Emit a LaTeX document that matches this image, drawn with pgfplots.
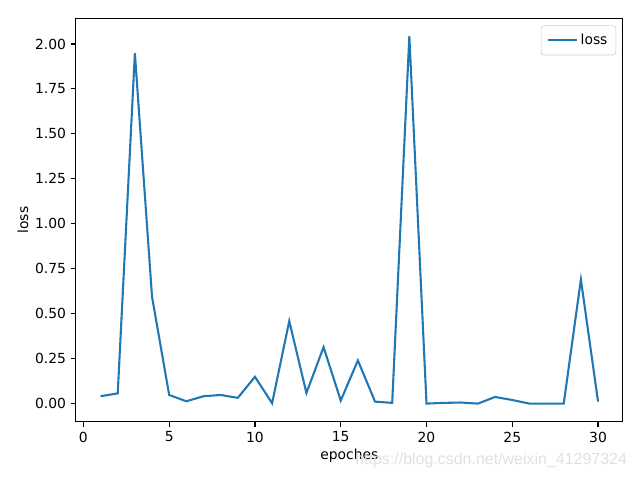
\documentclass[border=0pt]{standalone}
\usepackage{pgfplots}
\pgfplotsset{compat=1.18}
\usepackage{fontspec}
\setmainfont{DejaVu Sans}
\newfontfamily\wmfont{Liberation Sans}
\definecolor{mplblue}{HTML}{1F77B4}

\begin{document}
\begin{tikzpicture}
\useasboundingbox (0,0) rectangle (460.8pt,345.6pt);
\begin{axis}[
    at={(54.5pt,41.8pt)}, anchor=south west,
    scale only axis,
    width=394pt, height=290.6pt,
    xmin=-0.45, xmax=31.45,
    ymin=-0.102, ymax=2.1425,
    xtick={0,5,...,30},
    ytick={0,0.25,...,2.0},
    yticklabel style={/pgf/number format/.cd,fixed,fixed zerofill,precision=2},
    /pgf/number format/assume math mode=true,
    tick align=outside,
    tick pos=left,
    major tick length=3.5pt,
    tick style={black, line width=0.8pt},
    axis line style={line width=0.8pt},
    ticklabel style={font=\fontsize{10}{12}\selectfont},
    label style={font=\fontsize{10}{12}\selectfont},
    xlabel={epoches},
    ylabel={loss},
    xlabel style={yshift=2pt},
    ylabel style={yshift=-2pt},
    legend style={draw=black!20, rounded corners=2pt, font=\fontsize{10}{12}\selectfont,
        at={(0.9875,0.9825)}, anchor=north east, inner xsep=4pt, inner ysep=4pt},
    legend image code/.code={\draw[#1] (0pt,0pt) -- (21pt,0pt);},
    legend cell align=left,
]
\addplot[mplblue, line width=1.5pt] coordinates {
    (1,0.041) (2,0.057) (3,1.948) (4,0.594) (5,0.048) (6,0.013)
    (7,0.041) (8,0.048) (9,0.032) (10,0.149) (11,0.002) (12,0.459)
    (13,0.059) (14,0.314) (15,0.017) (16,0.240) (17,0.011) (18,0.004)
    (19,2.043) (20,0.000) (21,0.004) (22,0.006) (23,0.000) (24,0.037)
    (25,0.020) (26,0.000) (27,0.000) (28,0.000) (29,0.690) (30,0.011)
};
\addlegendentry{loss}
\end{axis}
\node[anchor=east, text=black!12, font=\wmfont\fontsize{11.5}{14}\selectfont]
    at (455pt,14pt) {https://blog.csdn.net/weixin\_41297324};
\end{tikzpicture}
\end{document}
